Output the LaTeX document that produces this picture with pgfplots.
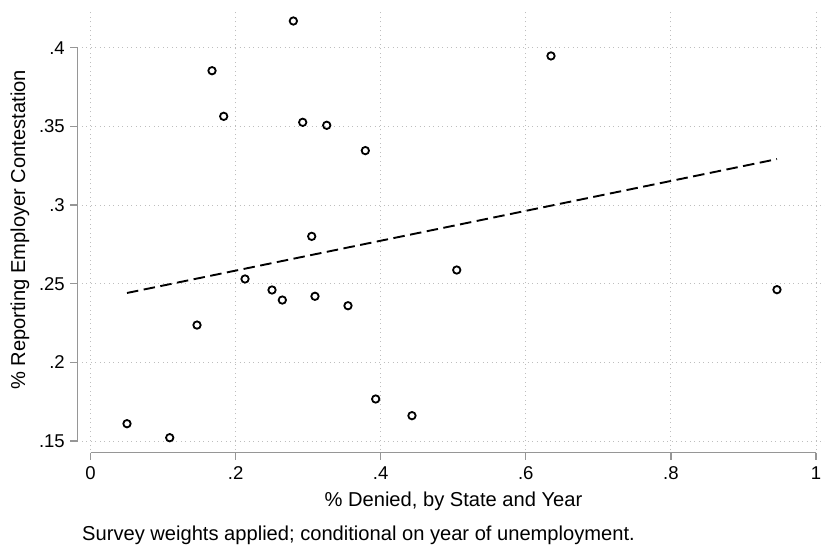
\documentclass[border=0pt]{standalone}
\usepackage{pgfplots}
\pgfplotsset{compat=1.18}
\usepackage{fontspec}
\setmainfont{Liberation Sans}
\definecolor{axgray}{RGB}{150,150,150}
\definecolor{gridgray}{RGB}{190,190,190}
\begin{document}
\begin{tikzpicture}
\useasboundingbox (-82bp,-99bp) rectangle (743bp,450bp);
\begin{axis}[
  at={(0,0)}, anchor=south west,
  scale only axis, width=743bp, height=440bp,
  xmin=-0.01172, xmax=1.0124,
  ymin=0.14428, ymax=0.4240,
  clip=false,
  axis line style={draw=none},
  major tick length=0pt,
  xtick={0,0.2,0.4,0.6,0.8,1},
  xticklabels={0,.2,.4,.6,.8,1},
  ytick={0.15,0.2,0.25,0.3,0.35,0.4},
  yticklabels={.15,.2,.25,.3,.35,.4},
  grid=major,
  major grid style={gridgray, line width=1bp, dash pattern=on 1bp off 3.5bp},
  xticklabel style={font=\fontsize{18.6}{21}\selectfont, anchor=base, inner sep=0pt, yshift=-29.5bp},
  yticklabel style={font=\fontsize{18.6}{21}\selectfont, anchor=east, inner sep=0pt, xshift=-17bp},
  xlabel={\% Denied, by State and Year},
  ylabel={\% Reporting Employer Contestation},
  xlabel style={font=\fontsize{20.2}{24}\selectfont, at={(axis description cs:0.5,-0.12727)}, anchor=base, inner sep=0pt},
  ylabel style={font=\fontsize{20.2}{24}\selectfont, at={(axis description cs:-0.0767,0.5)}, anchor=base, rotate=0, inner sep=0pt},
]
% offset axis lines and ticks (Stata style)
\draw[axgray, line width=1.3bp] ([yshift=-2.7bp]axis cs:0,0.14428) -- ([yshift=-2.7bp]axis cs:1,0.14428);
\draw[axgray, line width=1.3bp] ([xshift=-4.3bp]axis cs:-0.01172,0.15) -- ([xshift=-4.3bp]axis cs:-0.01172,0.4);
\foreach \t in {0,0.2,0.4,0.6,0.8,1}{
  \edef\temp{\noexpand\draw[axgray, line width=1.3bp] ([yshift=-2.7bp]axis cs:\t,0.14428) -- ([yshift=-10bp]axis cs:\t,0.14428);}
  \temp
}
\foreach \t in {0.15,0.2,0.25,0.3,0.35,0.4}{
  \edef\temp{\noexpand\draw[axgray, line width=1.3bp] ([xshift=-4.3bp]axis cs:-0.01172,\t) -- ([xshift=-12bp]axis cs:-0.01172,\t);}
  \temp
}
\addplot[only marks, mark=o, mark size=3.7bp, mark options={line width=1.8bp, black}] coordinates {
(0.2796,0.4170) (0.1675,0.3854) (0.1836,0.3564) (0.2925,0.3526) (0.3256,0.3507)
(0.3788,0.3346) (0.3049,0.2801) (0.6347,0.3948) (0.5048,0.2587) (0.2130,0.2530)
(0.2502,0.2460) (0.2644,0.2396) (0.3094,0.2420) (0.3549,0.2360) (0.1468,0.2237)
(0.3931,0.1767) (0.4431,0.1661) (0.0503,0.1610) (0.1092,0.1521) (0.9462,0.2462)
};
\addplot[black, line width=1.9bp, dash pattern=on 11.5bp off 5.5bp] coordinates {(0.0503,0.2441) (0.9462,0.3292)};
\node[anchor=base west, inner sep=0pt, font=\fontsize{20.2}{24}\selectfont] at (axis description cs:0,-0.20614) {Survey weights applied; conditional on year of unemployment.};
\end{axis}
\end{tikzpicture}
\end{document}
